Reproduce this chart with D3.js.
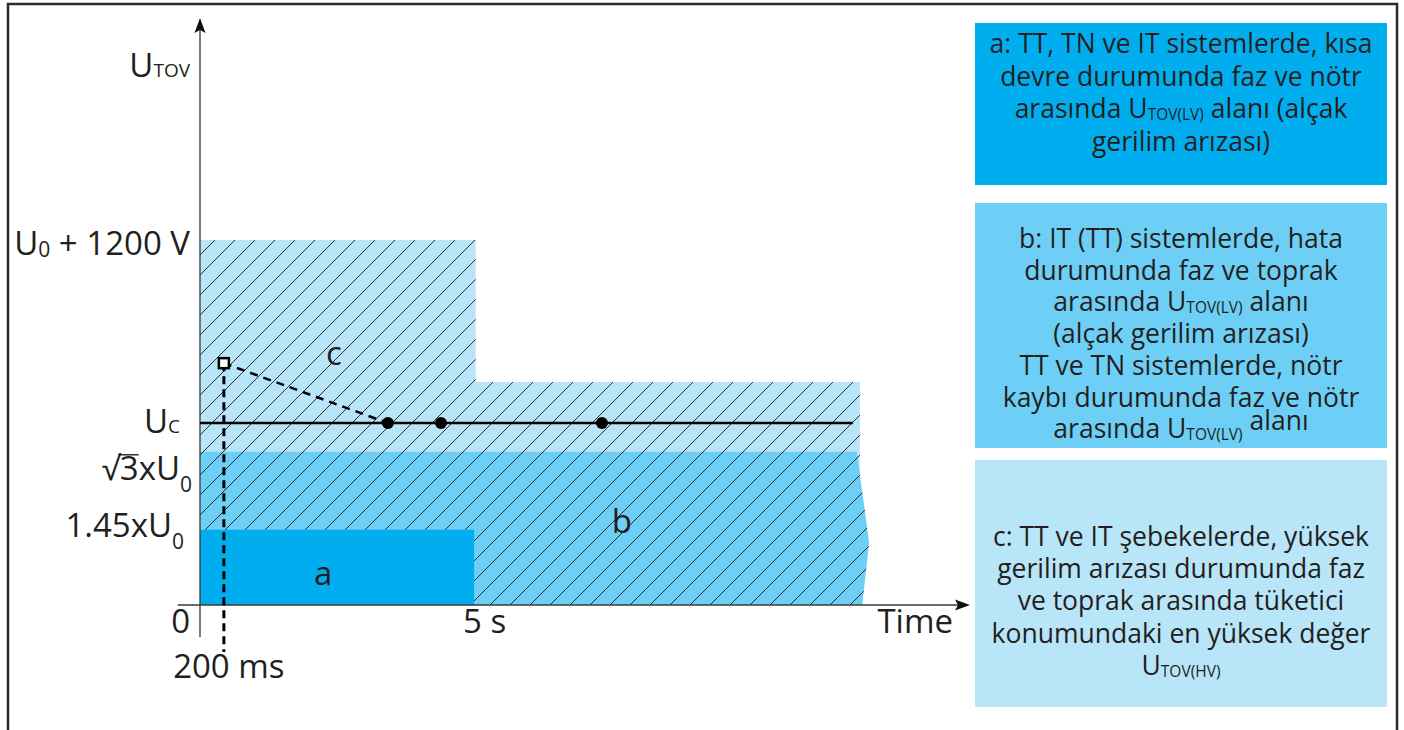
<!DOCTYPE html>
<html>
<head>
<meta charset="utf-8">
<script src="https://cdn.jsdelivr.net/npm/d3@7"></script>
<style>
  body { margin: 0; background: #fff; }
  text { font-family: "Open Sans", sans-serif; fill: #231f20; }
</style>
</head>
<body>
<div id="chart"></div>
<script>
const svgWidth = 1404
const svgHeight = 730

// schematic units (0..100)
const tZero = 0
const t200ms = 3.1
const t5s = 35.8
const tEnd = 85.7
const tUcEnd = 84.8
const tAxisStart = -2.9
const tAxisEnd = 100

const levels = {
  u145: 12.8,     // 1.45xU0
  sqrt3: 26.1,    // √3xU0
  uc: 31.0,       // Uc
  cLow: 38.0,     // region c after 5 s
  square: 41.2,   // 200 ms peak
  u1200: 62.2     // U0 + 1200 V
}

const regionC = [[0, 0], [0, 62.2], [35.8, 62.2], [35.8, 38.0], [85.7, 38.0], [85.7, 0]]
const regionB = [[0, 0], [0, 26.1], [85.3, 26.1], [86.9, 10.6], [86.0, 0]]
const regionA = [[0, 0], [0, 12.8], [35.6, 12.8], [35.6, 0]]
const ucDots = [24.4, 31.3, 52.2]

const legendA = [
  [["a: TT, TN ve IT sistemlerde, kısa"]],
  [["devre durumunda faz ve nötr"]],
  [["arasında U"], ["TOV(LV)", "sub"], [" alanı (alçak"]],
  [["gerilim arızası)"]]
]
const legendB = [
  [["b: IT (TT) sistemlerde, hata"]],
  [["durumunda faz ve toprak"]],
  [["arasında U"], ["TOV(LV)", "sub"], [" alanı"]],
  [["(alçak gerilim arızası)"]],
  [["TT ve TN sistemlerde, nötr"]],
  [["kaybı durumunda faz ve nötr"]],
  [["arasında U"], ["TOV(LV)", "sub"], [" alanı", "up"]]
]
const legendC = [
  [["c: TT ve IT şebekelerde, yüksek"]],
  [["gerilim arızası durumunda faz"]],
  [["ve toprak arasında tüketici"]],
  [["konumundaki en yüksek değer"]],
  [["U"], ["TOV(HV)", "sub"]]
]

const colA = "#00aeef"
const colB = "#6dcff6"
const colC = "#b9e5f9"

let svg = d3.select("#chart").append("svg")
  .attr("width", svgWidth)
  .attr("height", svgHeight)

let x = d3.scaleLinear().domain([0, 100]).range([200, 970])
let y = d3.scaleLinear().domain([0, 100]).range([605, 18])

let line = d3.line().x(d => x(d[0])).y(d => y(d[1]))

// frame
svg.append("path")
  .attr("d", `M8,${svgHeight + 10} V4 H1397 V${svgHeight + 10}`)
  .attr("fill", "none")
  .attr("stroke", "#2b2b2b")
  .attr("stroke-width", 2.5)

// hatch pattern
let defs = svg.append("defs")
defs.append("pattern")
  .attr("id", "hatch")
  .attr("patternUnits", "userSpaceOnUse")
  .attr("width", 20)
  .attr("height", 20)
  .attr("patternTransform", "translate(15,0)")
  .append("path")
  .attr("d", "M-5,5 L5,-5 M0,20 L20,0 M15,25 L25,15")
  .attr("stroke", "#1a1a1a")
  .attr("stroke-width", 0.9)

let clip = defs.append("clipPath").attr("id", "hatchClip")
clip.append("path").attr("d", line(regionC) + "Z")
clip.append("path").attr("d", line(regionB) + "Z")

// regions
svg.append("path").attr("d", line(regionC) + "Z").attr("fill", colC)
svg.append("path").attr("d", line(regionB) + "Z").attr("fill", colB)
svg.append("rect")
  .attr("x", x(0)).attr("y", y(100))
  .attr("width", x(100) - x(0)).attr("height", y(0) - y(100))
  .attr("fill", "url(#hatch)")
  .attr("clip-path", "url(#hatchClip)")
svg.append("path").attr("d", line(regionA) + "Z").attr("fill", colA)

// axes
let axisG = svg.append("g").attr("stroke", "#3a3a3a").attr("stroke-width", 1.3)
axisG.append("line")
  .attr("x1", x(0)).attr("x2", x(0))
  .attr("y1", y(-5.5)).attr("y2", y(tAxisEnd) + 6)
axisG.append("line")
  .attr("x1", x(tAxisStart)).attr("x2", x(tAxisEnd) - 6)
  .attr("y1", y(0)).attr("y2", y(0))
svg.append("path")
  .attr("d", `M${x(0)},${y(tAxisEnd)} l-5.5,15 l5.5,-3 l5.5,3 Z`)
  .attr("fill", "#111")
svg.append("path")
  .attr("d", `M${x(tAxisEnd)},${y(0)} l-15,-5.5 l3,5.5 l-3,5.5 Z`)
  .attr("fill", "#111")

// Uc line, dashed curve, dots
svg.append("line")
  .attr("x1", x(0)).attr("x2", x(tUcEnd))
  .attr("y1", y(levels.uc)).attr("y2", y(levels.uc))
  .attr("stroke", "#000").attr("stroke-width", 2.5)

svg.append("line")
  .attr("x1", x(t200ms)).attr("x2", x(ucDots[0]))
  .attr("y1", y(levels.square)).attr("y2", y(levels.uc))
  .attr("stroke", "#000").attr("stroke-width", 2.5)
  .attr("stroke-dasharray", "8,6")

svg.append("line")
  .attr("x1", x(t200ms)).attr("x2", x(t200ms))
  .attr("y1", y(levels.square)).attr("y2", y(-8))
  .attr("stroke", "#000").attr("stroke-width", 3)
  .attr("stroke-dasharray", "8,5")

svg.selectAll("circle.uc")
  .data(ucDots)
  .enter()
  .append("circle")
  .attr("cx", d => x(d))
  .attr("cy", y(levels.uc))
  .attr("r", 6)
  .attr("fill", "#000")

svg.append("rect")
  .attr("x", x(t200ms) - 5).attr("y", y(levels.square) - 5)
  .attr("width", 10).attr("height", 10)
  .attr("fill", "#fff").attr("stroke", "#000").attr("stroke-width", 2.5)

// labels
function label(px, py, parts, anchor, size) {
  let t = svg.append("text")
    .attr("x", px).attr("y", py)
    .attr("text-anchor", anchor || "end")
    .style("font-size", (size || 33) + "px")
  let shifted = 0
  parts.forEach(p => {
    let s = t.append("tspan").text(p[0])
    if (p[1] === "sub") s.style("font-size", "19px")
    else if (p[1] === "low") { s.style("font-size", "21px").attr("dy", 12); shifted = 12 }
    else if (p[1] === "lowish") { s.style("font-size", "21px").attr("dy", 2); shifted = 2 }
    else if (shifted) { s.attr("dy", -shifted); shifted = 0 }
  })
  return t
}

label(190, 77, [["U"], ["TOV", "sub"]])
label(190, y(levels.u1200) + 15, [["U"], ["0", "lowish"], [" + 1200 V"]])
label(180, y(levels.uc) + 10, [["U"], ["C", "sub"]])
let sq = label(192, y(levels.sqrt3) + 28, [["√3xU"], ["0", "low"]])
// radical bar over the 3
let r0 = sq.node().getExtentOfChar(0)
let r1 = sq.node().getExtentOfChar(1)
svg.append("line")
  .attr("x1", r0.x + r0.width - 1.5).attr("x2", r1.x + r1.width)
  .attr("y1", y(levels.sqrt3) + 28 - 25).attr("y2", y(levels.sqrt3) + 28 - 25)
  .attr("stroke", "#231f20").attr("stroke-width", 1.4)
label(184, y(levels.u145) + 7, [["1.45xU"], ["0", "low"]])
label(x(17.4), y(levels.square) + 2, [["c"]], "middle")
label(x(16.0), y(0) - 20, [["a"]], "middle")
label(x(54.8), y(levels.u145) + 3, [["b"]], "middle")
label(190, 633, [["0"]])
label(x(t5s) + 9, 633, [["5 s"]], "middle")
label(953, 633, [["Time"]])
label(x(t200ms) + 5, 678, [["200 ms"]], "middle")

// legend boxes
const boxes = [
  { lines: legendA, fill: colA, y0: 23, y1: 185, base: 53, step: 32.5 },
  { lines: legendB, fill: colB, y0: 203, y1: 448, base: 248, step: 31.7 },
  { lines: legendC, fill: colC, y0: 460, y1: 707, base: 546, step: 32.2 }
]
let bx0 = 975, bx1 = 1387
boxes.forEach(b => {
  svg.append("rect")
    .attr("x", bx0).attr("y", b.y0)
    .attr("width", bx1 - bx0).attr("height", b.y1 - b.y0)
    .attr("fill", b.fill)
  b.lines.forEach((ln, i) => {
    let t = svg.append("text")
      .attr("x", (bx0 + bx1) / 2)
      .attr("y", b.base + i * b.step)
      .attr("text-anchor", "middle")
      .style("font-size", "26.5px")
    let shifted = 0
    ln.forEach(p => {
      let s = t.append("tspan").text(p[0])
      if (p[1] === "sub") { s.style("font-size", "15.5px").attr("dy", 2); shifted = 2 }
      else if (p[1] === "up") { s.attr("dy", -8 - shifted) }
      else if (shifted) { s.attr("dy", -shifted); shifted = 0 }
    })
  })
})
</script>
</body>
</html>
